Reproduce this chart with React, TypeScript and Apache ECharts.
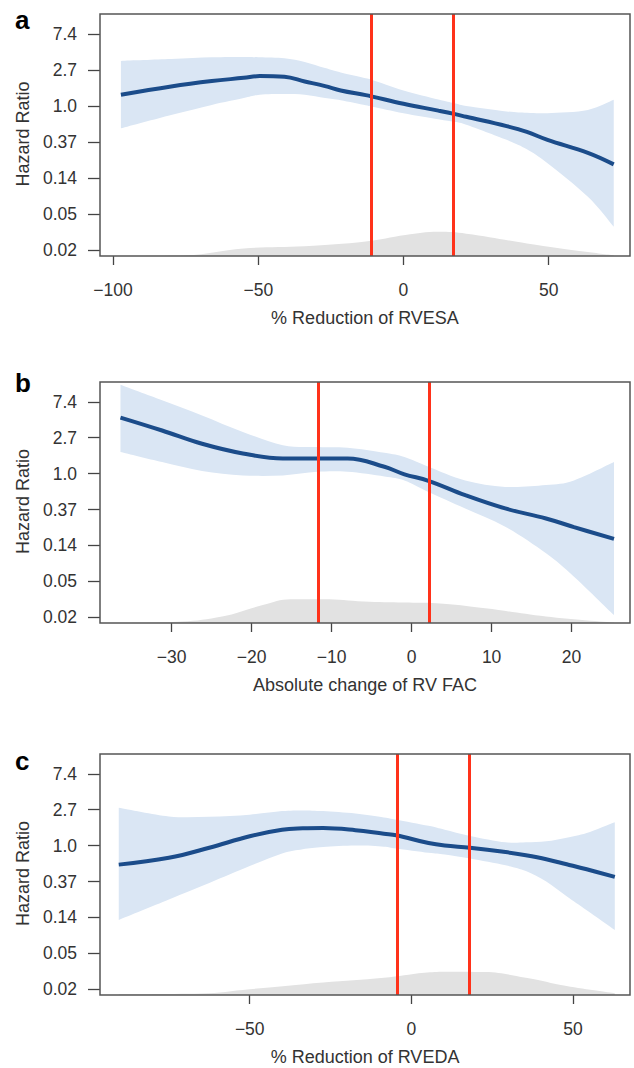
import React, { useEffect, useRef } from "react";
import * as echarts from "echarts";

// Y axis: log(HR) units; ticks at e^-4 ... e^2
const yTickValues = [-4, -3, -2, -1, 0, 1, 2];
const yTickLabels = ["0.02", "0.05", "0.14", "0.37", "1.0", "2.7", "7.4"];

// Panel a: % Reduction of RVESA
const aX = [-97.3, -80, -66, -55, -49.5, -41, -34, -27, -21.6, -13, -10.7, 0, 12, 17.4, 21.6, 35.5, 42.5, 49.6, 63.5, 72.4];
const aFit = [0.31, 0.54, 0.69, 0.78, 0.83, 0.81, 0.68, 0.55, 0.43, 0.3, 0.26, 0.06, -0.13, -0.22, -0.3, -0.56, -0.72, -0.94, -1.3, -1.62];
const aUpper = [1.25, 1.3, 1.35, 1.36, 1.35, 1.32, 1.22, 1.05, 0.93, 0.77, 0.72, 0.43, 0.18, 0.08, 0.0, -0.15, -0.19, -0.2, -0.11, 0.17];
const aLower = [-0.62, -0.25, 0.03, 0.22, 0.31, 0.33, 0.31, 0.22, 0.16, 0.02, -0.02, -0.2, -0.37, -0.44, -0.52, -0.94, -1.2, -1.59, -2.52, -3.35];
const aDensX = [-97.3, -75, -55, -34, -13, 0.7, 12, 21.6, 42.5, 63.5, 72.4];
const aDens = [-4.16, -4.14, -3.95, -3.89, -3.76, -3.58, -3.49, -3.54, -3.81, -4.05, -4.14];
const aCuts = [-11, 17];
const aTicks = [-100, -50, 0, 50];

// Panel b: Absolute change of RV FAC
const bX = [-36.4, -31.2, -26.2, -21.1, -16.1, -11.8, -8, -3.4, -0.9, 2.1, 6.7, 11.7, 16.8, 20.3, 25.3];
const bFit = [1.56, 1.2, 0.83, 0.56, 0.42, 0.42, 0.42, 0.19, -0.02, -0.2, -0.6, -0.97, -1.25, -1.49, -1.82];
const bUpper = [2.47, 2.04, 1.62, 1.16, 0.79, 0.74, 0.72, 0.58, 0.46, 0.19, -0.19, -0.37, -0.32, -0.19, 0.32];
const bLower = [0.6, 0.32, 0.07, -0.05, -0.05, 0.05, 0.05, -0.08, -0.19, -0.51, -0.97, -1.48, -2.22, -2.87, -3.94];
const bDensX = [-36.4, -28.7, -23.7, -18.6, -15.1, -11, -6, -0.9, 3.1, 9.2, 16.8, 25.3];
const bDens = [-4.16, -4.12, -3.98, -3.66, -3.5, -3.5, -3.56, -3.59, -3.61, -3.75, -3.98, -4.15];
const bCuts = [-11.7, 2.2];
const bTicks = [-30, -20, -10, 0, 10, 20];

// Panel c: % Reduction of RVEDA
const cX = [-90.5, -75, -62.5, -50, -40, -33.6, -27.3, -17.3, -8.5, -4.7, 5.3, 10.3, 18.1, 29.1, 35.4, 41.7, 48, 54.2, 62.9];
const cFit = [-0.53, -0.34, -0.06, 0.26, 0.44, 0.48, 0.49, 0.43, 0.33, 0.29, 0.07, 0.0, -0.06, -0.18, -0.27, -0.38, -0.52, -0.66, -0.87];
const cUpper = [1.05, 0.81, 0.8, 0.86, 0.96, 0.98, 0.96, 0.89, 0.78, 0.72, 0.55, 0.44, 0.27, 0.09, 0.09, 0.12, 0.22, 0.35, 0.65];
const cLower = [-2.07, -1.5, -1.04, -0.57, -0.22, -0.1, -0.04, 0.0, -0.03, -0.08, -0.2, -0.25, -0.36, -0.55, -0.71, -1.0, -1.41, -1.8, -2.35];
const cDensX = [-90.5, -65, -50, -27.3, -8.5, 4, 10.3, 22.8, 35.4, 48, 62.9];
const cDens = [-4.14, -4.12, -4.0, -3.81, -3.68, -3.54, -3.51, -3.52, -3.68, -3.91, -4.11];
const cCuts = [-4.5, 18.0];
const cTicks = [-50, 0, 50];

const panelLetters = ["a", "b", "c"];
const xTitles = ["% Reduction of RVESA", "Absolute change of RV FAC", "% Reduction of RVEDA"];

const FONT = "'Liberation Sans', Arial, Helvetica, sans-serif";
const BAND = "#dae6f4";
const LINE = "#1b4c8a";
const RED = "#ff321a";
const DENS = "#e2e2e2";

const panels = [
  { x: aX, fit: aFit, up: aUpper, lo: aLower, dx: aDensX, d: aDens, cuts: aCuts, ticks: aTicks, xmin: -104.5, xmax: 78, top: 14, height: 242 },
  { x: bX, fit: bFit, up: bUpper, lo: bLower, dx: bDensX, d: bDens, cuts: bCuts, ticks: bTicks, xmin: -38.96, xmax: 27.3, top: 382, height: 241 },
  { x: cX, fit: cFit, up: cUpper, lo: cLower, dx: cDensX, d: cDens, cuts: cCuts, ticks: cTicks, xmin: -96.3, xmax: 67.6, top: 754, height: 241 },
];

const pairs = (xs: number[], ys: number[]) => xs.map((x, i) => [x, ys[i]]);
const fmtX = (v: number) => (v < 0 ? "\u2212" + Math.abs(v) : String(v));
const fmtY = (v: number) => {
  const i = yTickValues.findIndex((t) => Math.abs(t - v) < 1e-6);
  return i >= 0 ? yTickLabels[i] : "";
};

// Smooth (Catmull-Rom -> cubic Bezier) path segments through pixel points
const smoothSegs = (pts: number[][]) => {
  let d = "";
  for (let k = 0; k < pts.length - 1; k++) {
    const p0 = pts[k - 1] || pts[k];
    const p1 = pts[k];
    const p2 = pts[k + 1];
    const p3 = pts[k + 2] || pts[k + 1];
    const c1x = p1[0] + (p2[0] - p0[0]) / 6;
    const c1y = p1[1] + (p2[1] - p0[1]) / 6;
    const c2x = p2[0] - (p3[0] - p1[0]) / 6;
    const c2y = p2[1] - (p3[1] - p1[1]) / 6;
    d += ` C${c1x.toFixed(2)},${c1y.toFixed(2)} ${c2x.toFixed(2)},${c2y.toFixed(2)} ${p2[0].toFixed(2)},${p2[1].toFixed(2)}`;
  }
  return d;
};

export default function App() {
  const ref = useRef<HTMLDivElement>(null);
  useEffect(() => {
    if (!ref.current) return;
    const chart = echarts.init(ref.current, undefined, { renderer: "svg" });
    const LEFT = 100;
    const WIDTH = 530;
    const grid: any[] = [];
    const xAxis: any[] = [];
    const yAxis: any[] = [];
    const series: any[] = [];
    const graphic: any[] = [];
    panels.forEach((p, i) => {
      grid.push({
        left: LEFT,
        top: p.top,
        width: WIDTH,
        height: p.height,
        show: true,
        borderColor: "#555",
        borderWidth: 1.5,
        backgroundColor: "transparent",
        z: 10,
      });
      xAxis.push({
        type: "value",
        gridIndex: i,
        min: p.xmin,
        max: p.xmax,
        axisLine: { show: false, onZero: false },
        splitLine: { show: false },
        axisTick: { show: true, customValues: p.ticks, length: 9, lineStyle: { color: "#444", width: 1.3 } },
        axisLabel: {
          customValues: p.ticks,
          formatter: fmtX,
          margin: 25,
          fontSize: 17.5,
          color: "#333",
          fontFamily: FONT,
        },
      });
      yAxis.push({
        type: "value",
        gridIndex: i,
        min: -4.16,
        max: 2.55,
        axisLine: { show: false, onZero: false },
        splitLine: { show: false },
        axisTick: { show: true, customValues: yTickValues, length: 12, lineStyle: { color: "#444", width: 1.3 } },
        axisLabel: {
          customValues: yTickValues,
          formatter: fmtY,
          margin: 23,
          fontSize: 17.5,
          color: "#333",
          fontFamily: FONT,
        },
      });
      // density of observations
      series.push({
        type: "line",
        xAxisIndex: i,
        yAxisIndex: i,
        data: pairs(p.dx, p.d),
        symbol: "none",
        smooth: 0.4,
        lineStyle: { width: 0, opacity: 0 },
        areaStyle: { color: DENS, opacity: 1, origin: "start" },
        z: 1,
        silent: true,
      });
      // confidence band polygon through the library's coordinate system
      series.push({
        type: "custom",
        coordinateSystem: "cartesian2d",
        xAxisIndex: i,
        yAxisIndex: i,
        data: [[p.x[0], p.up[0]]],
        z: 2,
        silent: true,
        renderItem: (_params: any, api: any) => {
          const up = p.x.map((x, k) => api.coord([x, p.up[k]]));
          const lo = p.x.map((x, k) => api.coord([x, p.lo[k]])).reverse();
          const d =
            `M${up[0][0].toFixed(2)},${up[0][1].toFixed(2)}` +
            smoothSegs(up) +
            ` L${lo[0][0].toFixed(2)},${lo[0][1].toFixed(2)}` +
            smoothSegs(lo) +
            " Z";
          return { type: "path", shape: { pathData: d }, style: { fill: BAND, stroke: "none" } };
        },
      });
      series.push({
        type: "line",
        xAxisIndex: i,
        yAxisIndex: i,
        data: pairs(p.x, p.fit),
        symbol: "none",
        smooth: 0.4,
        lineStyle: { color: LINE, width: 4 },
        z: 4,
        silent: true,
        markLine: {
          silent: true,
          symbol: ["none", "none"],
          label: { show: false },
          lineStyle: { color: RED, width: 3, type: "solid" },
          data: p.cuts.map((v) => ({ xAxis: v })),
        },
      });
      const mid = p.top + p.height / 2;
      graphic.push({
        type: "text",
        x: 23,
        y: mid - 1,
        rotation: Math.PI / 2,
        style: { text: "Hazard Ratio", fontSize: 18, fontFamily: FONT, fill: "#333", align: "center", verticalAlign: "middle" },
      });
      graphic.push({
        type: "text",
        x: LEFT + WIDTH / 2,
        y: p.top + p.height + 62,
        style: { text: xTitles[i], fontSize: 18, fontFamily: FONT, fill: "#333", align: "center", verticalAlign: "middle" },
      });
      const letterY = [19.5, 383, 761][i];
      graphic.push({
        type: "text",
        x: 15,
        y: letterY,
        style: { text: panelLetters[i], fontSize: 26, fontWeight: "bold", fontFamily: FONT, fill: "#000", align: "left", verticalAlign: "middle" },
      });
    });
    chart.setOption({
      animation: false,
      backgroundColor: "#fff",
      grid,
      xAxis,
      yAxis,
      series,
      graphic,
    });
    return () => chart.dispose();
  }, []);
  return <div ref={ref} style={{ position: "absolute", left: 0, top: 0, width: 634, height: 1068 }} />;
}
